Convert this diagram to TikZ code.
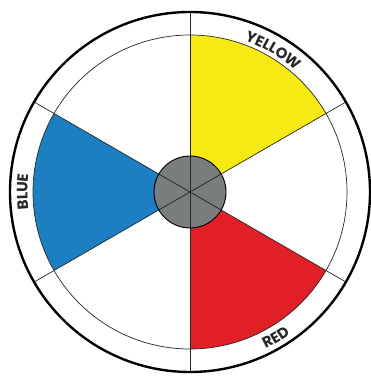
\documentclass[tikz,border=0pt]{standalone}
\usepackage{fontspec}
\setmainfont{Poppins}
\usetikzlibrary{decorations.text}
\definecolor{wyellow}{RGB}{247,234,20}
\definecolor{wblue}{RGB}{27,127,193}
\definecolor{wred}{RGB}{224,31,38}
\definecolor{wgray}{RGB}{122,125,126}
\definecolor{wline}{RGB}{40,40,40}
\tikzset{
  sector/.style={draw=wline, line width=0.6pt},
  thinline/.style={draw=wline, line width=0.7pt},
  lbl/.style={decorate, decoration={text along path, text align=center,
     text={|\bfseries\fontsize{15}{15}\selectfont\color{wline}|#1}}}
}
\begin{document}
\begin{tikzpicture}[x=1pt,y=1pt]
\useasboundingbox (0,0) rectangle (370,377);
\fill[white] (0,0) rectangle (370,377);
\begin{scope}[shift={(190,185)}]
  % coloured sectors
  \fill[wyellow] (0,0) -- (90:157) arc[start angle=90, end angle=30, radius=157] -- cycle;
  \fill[wblue] (0,0) -- (150:157) arc[start angle=150, end angle=210, radius=157] -- cycle;
  \fill[wred] (0,0) -- (-90:157) arc[start angle=-90, end angle=-30, radius=157] -- cycle;
  % inner ring
  \draw[thinline] (0,0) circle[radius=157];
  % radial lines
  \foreach \a in {90,30,-30,-90,150,210}
    \draw[thinline] (0,0) -- (\a:180);
  % hub
  \fill[wgray] (0,0) circle[radius=36];
  \foreach \a in {90,30,-30,-90,150,210}
    \draw[wline, line width=0.8pt] (0,0) -- (\a:36);
  \draw[black, line width=0.9pt] (0,0) circle[radius=36];
  % outer ring
  \draw[black, line width=2.4pt] (0,0) circle[radius=180];
  % labels
  \path[lbl=YELLOW] (85:161) arc[start angle=85, end angle=34, radius=161];
  \path[lbl=BLUE] (205:162.5) arc[start angle=205, end angle=155, radius=162.5];
  \path[lbl=RED] (-85:174) arc[start angle=-85, end angle=-34, radius=174];
\end{scope}
\end{tikzpicture}
\end{document}
